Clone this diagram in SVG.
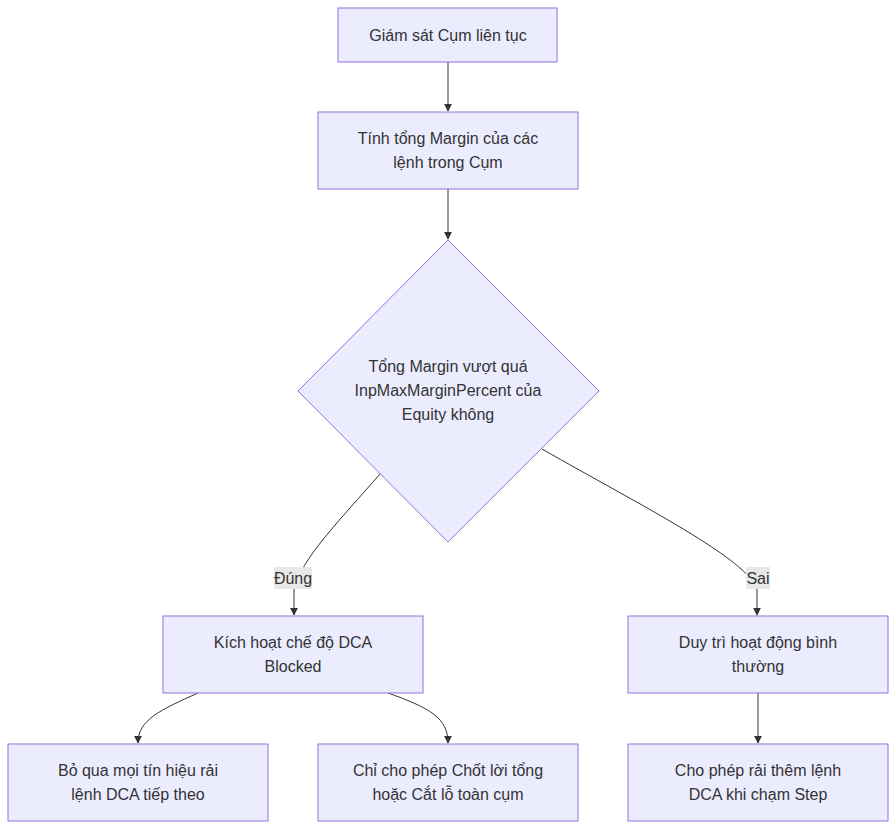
<svg xmlns="http://www.w3.org/2000/svg" width="896" height="830" viewBox="0 0 896 830">
<style>
.n{fill:#ECECFF;stroke:#9370DB;stroke-width:1}
.t{font-family:"Liberation Sans",Arial,sans-serif;font-size:16px;fill:#333;text-anchor:middle}
.e{fill:none;stroke:#333;stroke-width:1}
.lb{fill:#e8e8e8}
</style>
<defs><marker id="a" viewBox="0 0 10 10" refX="9" refY="5" markerWidth="8" markerHeight="8" orient="auto"><path d="M0,0L10,5L0,10z" fill="#333"/></marker></defs>
<rect width="896" height="830" fill="#fff"/>
<g id="edges">
<path class="e" d="M448,62V111" marker-end="url(#a)"/>
<path class="e" d="M448,189V239" marker-end="url(#a)"/>
<path class="e" d="M380,474C340,520 300,560 294,590V615" marker-end="url(#a)"/>
<path class="e" d="M542,449C640,505 750,560 757,590V615" marker-end="url(#a)"/>
<path class="e" d="M198,693C160,710 138,720 138,743" marker-end="url(#a)"/>
<path class="e" d="M388,693C430,708 448,718 448,743" marker-end="url(#a)"/>
<path class="e" d="M758,693V743" marker-end="url(#a)"/>
<rect class="lb" x="274" y="567" width="38" height="22"/>
<text class="t" x="293" y="584">Đúng</text>
<rect class="lb" x="746" y="567" width="24" height="22"/>
<text class="t" x="758" y="584">Sai</text>
</g>
<g id="A"><rect class="n" x="338" y="8" width="219" height="54"/><text class="t" x="448" y="41">Giám sát Cụm liên tục</text></g>
<g id="B"><rect class="n" x="318" y="112" width="260" height="77"/><text class="t" x="448" y="144">Tính tổng Margin của các</text><text class="t" x="448" y="168">lệnh trong Cụm</text></g>
<g id="C"><polygon class="n" points="448,240 599,391 448,542 298,391"/><text class="t" x="448" y="372">Tổng Margin vượt quá</text><text class="t" x="448" y="396">InpMaxMarginPercent của</text><text class="t" x="448" y="420">Equity không</text></g>
<g id="D"><rect class="n" x="163" y="616" width="260" height="77"/><text class="t" x="293" y="648">Kích hoạt chế độ DCA</text><text class="t" x="293" y="672">Blocked</text></g>
<g id="E"><rect class="n" x="628" y="616" width="260" height="77"/><text class="t" x="758" y="648">Duy trì hoạt động bình</text><text class="t" x="758" y="672">thường</text></g>
<g id="F"><rect class="n" x="8" y="744" width="260" height="77"/><text class="t" x="138" y="776">Bỏ qua mọi tín hiệu rải</text><text class="t" x="138" y="800">lệnh DCA tiếp theo</text></g>
<g id="G"><rect class="n" x="318" y="744" width="260" height="77"/><text class="t" x="448" y="776">Chỉ cho phép Chốt lời tổng</text><text class="t" x="448" y="800">hoặc Cắt lỗ toàn cụm</text></g>
<g id="H"><rect class="n" x="628" y="744" width="260" height="77"/><text class="t" x="758" y="776">Cho phép rải thêm lệnh</text><text class="t" x="758" y="800">DCA khi chạm Step</text></g>
</svg>
